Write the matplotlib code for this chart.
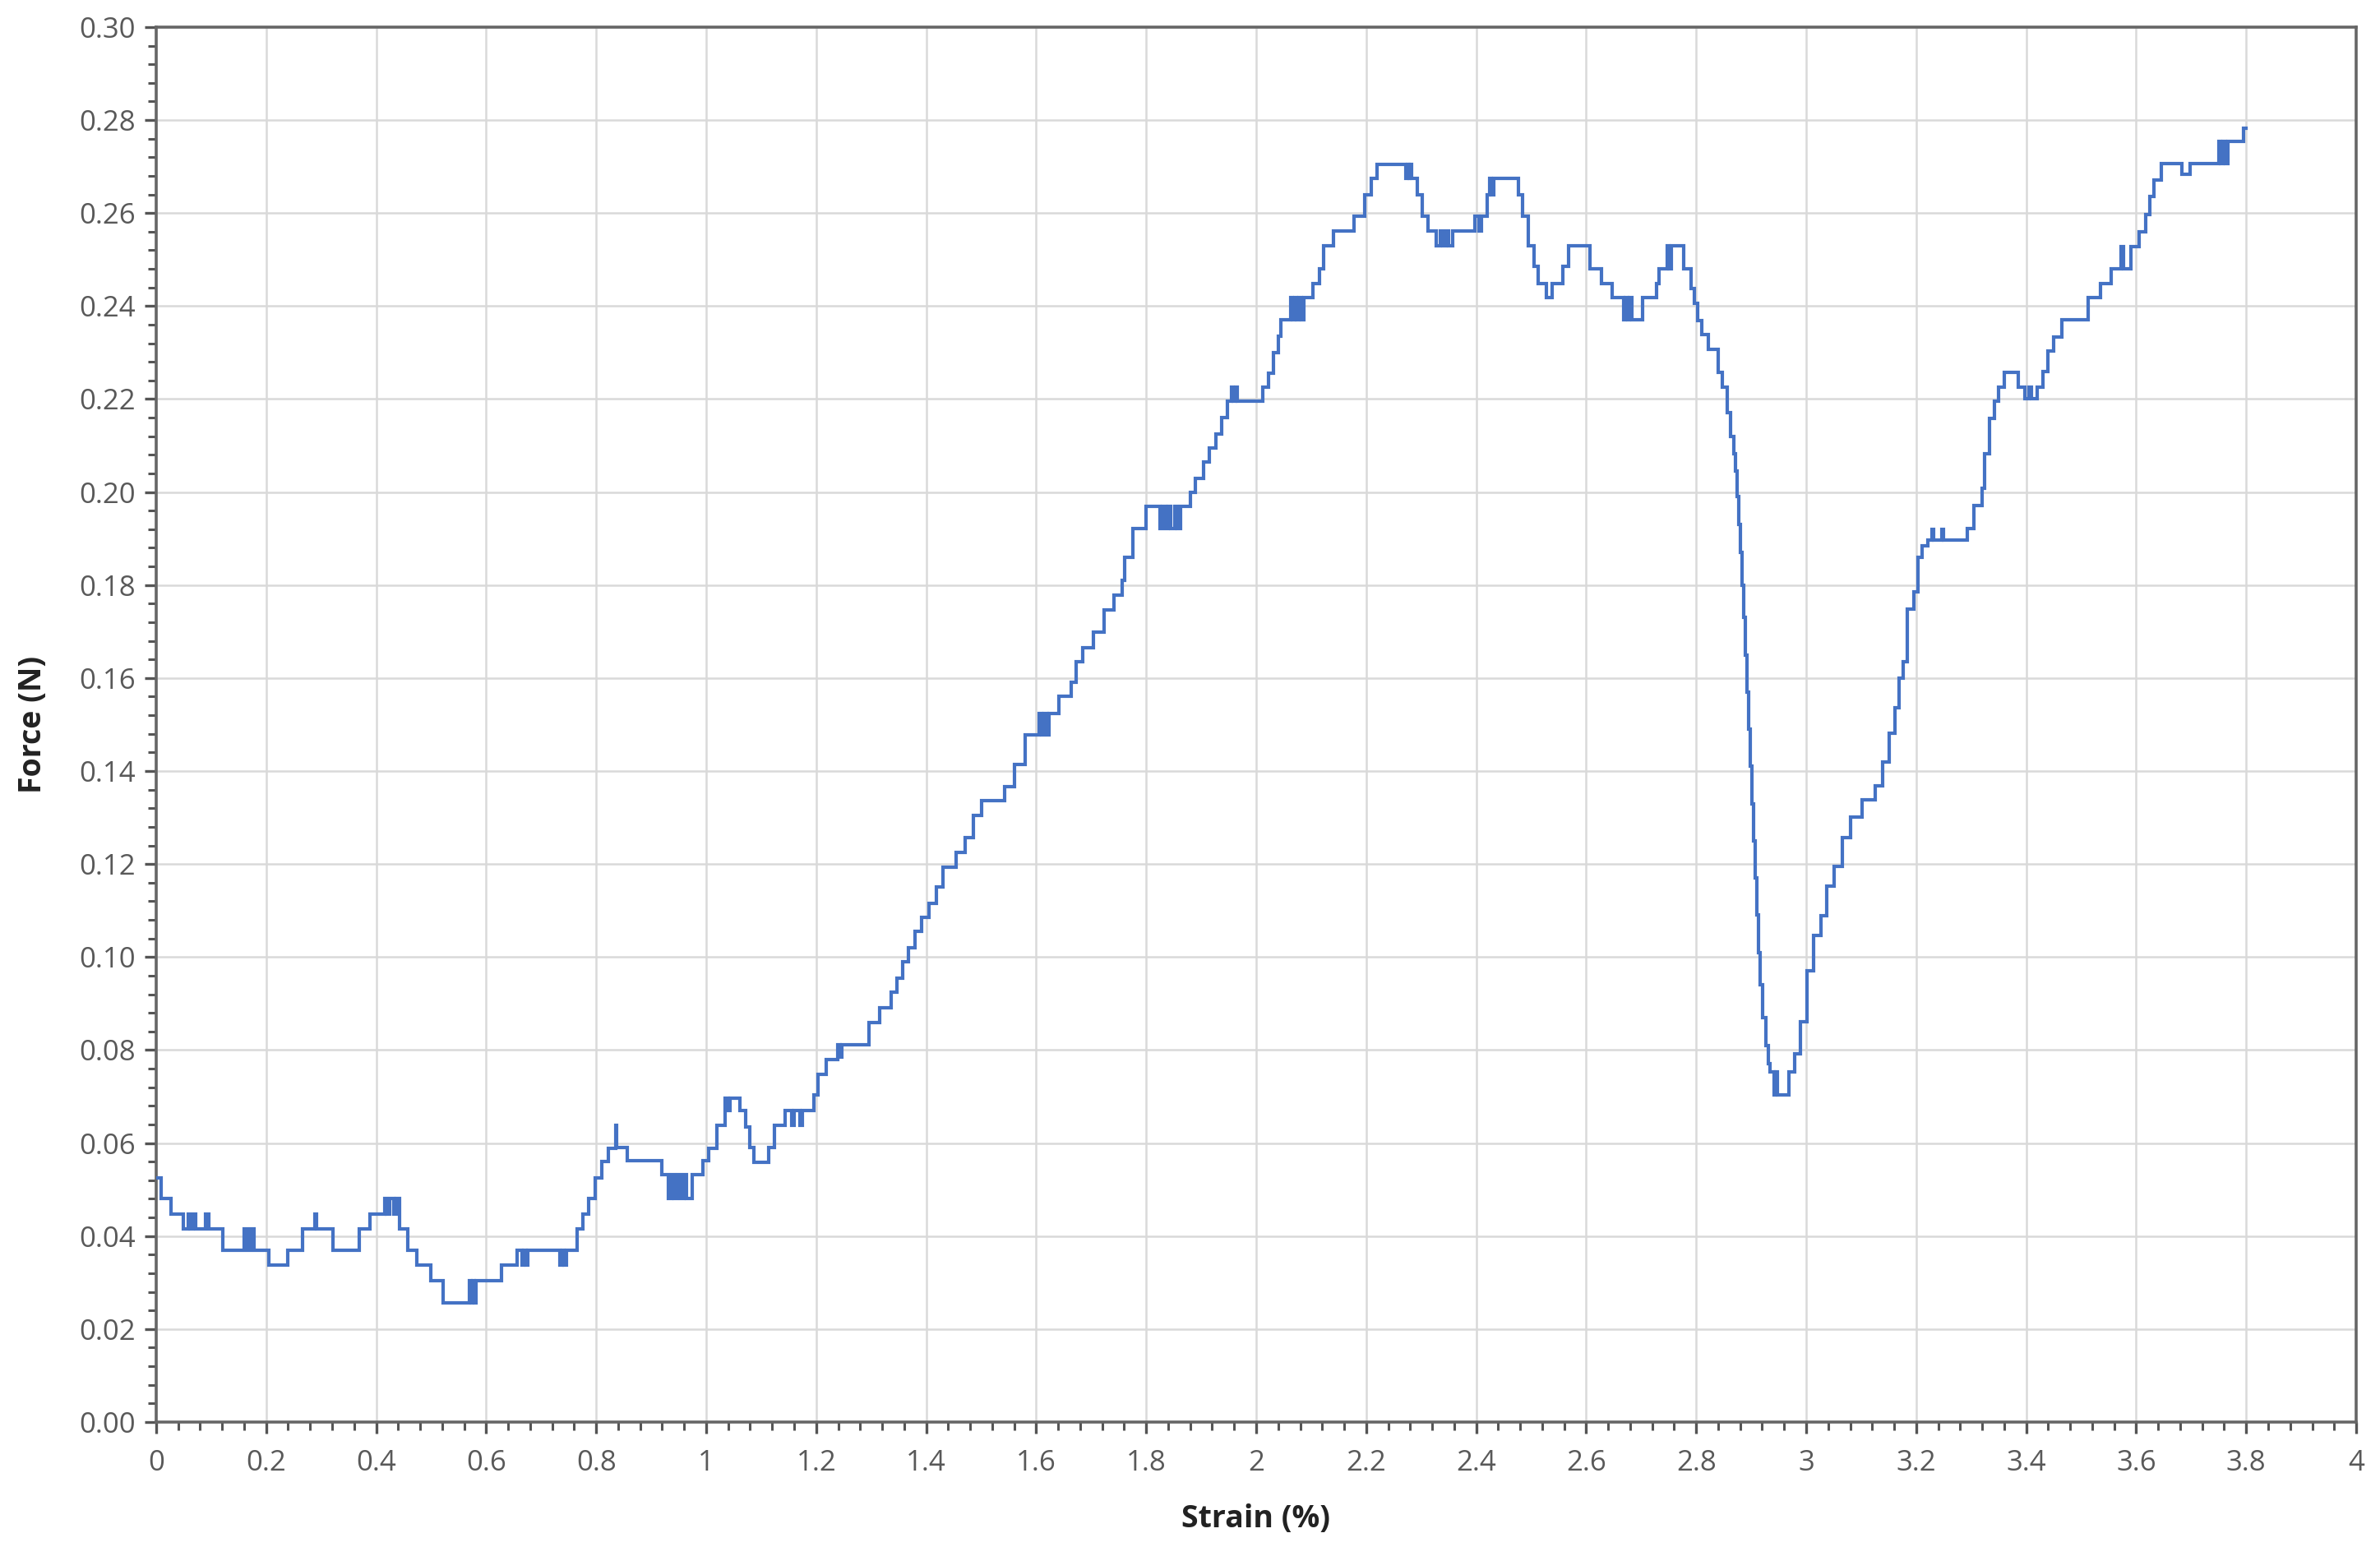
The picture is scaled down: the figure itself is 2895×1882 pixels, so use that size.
import matplotlib
matplotlib.use("Agg")
import matplotlib.pyplot as plt
from matplotlib.ticker import MultipleLocator, FuncFormatter

# Step breakpoints: strain (%) and the force (N) held from
# that strain until the next breakpoint. Written 5 per line, aligned line by line.
strain = [
    0.000, 0.009, 0.0276, 0.049, 0.058,
    0.062, 0.068, 0.072, 0.090, 0.096,
    0.1206, 0.160, 0.166, 0.172, 0.178,
    0.2055, 0.240, 0.2666, 0.288, 0.291,
    0.322, 0.370, 0.389, 0.415, 0.419,
    0.425, 0.432, 0.436, 0.442, 0.458,
    0.474, 0.500, 0.5215, 0.569, 0.572,
    0.575, 0.578, 0.581, 0.628, 0.657,
    0.665, 0.668, 0.672, 0.675, 0.734,
    0.738, 0.742, 0.746, 0.766, 0.776,
    0.787, 0.798, 0.811, 0.8224, 0.835,
    0.8374, 0.857, 0.920, 0.932, 0.937,
    0.942, 0.948, 0.953, 0.959, 0.964,
    0.9746, 0.9945, 1.0045, 1.0195, 1.0344,
    1.040, 1.043, 1.062, 1.072, 1.079,
    1.0868, 1.114, 1.124, 1.144, 1.155,
    1.160, 1.170, 1.175, 1.1965, 1.204,
    1.219, 1.239, 1.244, 1.247, 1.296,
    1.316, 1.336, 1.347, 1.357, 1.368,
    1.380, 1.392, 1.405, 1.418, 1.430,
    1.454, 1.471, 1.486, 1.501, 1.543,
    1.560, 1.580, 1.605, 1.610, 1.614,
    1.620, 1.624, 1.642, 1.664, 1.672,
    1.684, 1.704, 1.724, 1.741, 1.756,
    1.761, 1.776, 1.800, 1.825, 1.830,
    1.835, 1.840, 1.845, 1.852, 1.857,
    1.862, 1.880, 1.890, 1.905, 1.915,
    1.927, 1.937, 1.948, 1.955, 1.958,
    1.962, 1.966, 2.012, 2.022, 2.032,
    2.040, 2.045, 2.0625, 2.066, 2.070,
    2.074, 2.078, 2.082, 2.086, 2.1025,
    2.115, 2.1225, 2.140, 2.1775, 2.1975,
    2.210, 2.220, 2.272, 2.275, 2.278,
    2.280, 2.283, 2.2925, 2.3025, 2.3125,
    2.3275, 2.335, 2.340, 2.345, 2.350,
    2.3575, 2.3975, 2.405, 2.410, 2.420,
    2.425, 2.428, 2.432, 2.4775, 2.485,
    2.495, 2.505, 2.5125, 2.5275, 2.5375,
    2.5575, 2.5675, 2.6075, 2.6275, 2.6475,
    2.6675, 2.671, 2.675, 2.679, 2.683,
    2.7025, 2.7275, 2.7325, 2.7475, 2.751,
    2.755, 2.7775, 2.790, 2.797, 2.8025,
    2.810, 2.8224, 2.840, 2.847, 2.857,
    2.862, 2.868, 2.872, 2.875, 2.878,
    2.881, 2.884, 2.887, 2.890, 2.893,
    2.896, 2.899, 2.902, 2.905, 2.908,
    2.911, 2.914, 2.917, 2.921, 2.926,
    2.931, 2.9345, 2.942, 2.945, 2.947,
    2.969, 2.979, 2.989, 3.0017, 3.014,
    3.0266, 3.0366, 3.0515, 3.0664, 3.081,
    3.101, 3.126, 3.1386, 3.151, 3.161,
    3.1685, 3.176, 3.1835, 3.196, 3.2034,
    3.211, 3.221, 3.228, 3.231, 3.246,
    3.249, 3.293, 3.3055, 3.3204, 3.325,
    3.333, 3.343, 3.3503, 3.360, 3.385,
    3.3976, 3.405, 3.410, 3.420, 3.430,
    3.440, 3.450, 3.465, 3.5125, 3.535,
    3.555, 3.5725, 3.5775, 3.590, 3.605,
    3.6175, 3.625, 3.6325, 3.645, 3.6825,
    3.6975, 3.750, 3.754, 3.758, 3.762,
    3.7675, 3.795, 3.800,
]
force = [
    0.0525, 0.0481, 0.0448, 0.0416, 0.0448,
    0.0416, 0.0448, 0.0416, 0.0448, 0.0416,
    0.0369, 0.0416, 0.0369, 0.0416, 0.0369,
    0.0338, 0.0369, 0.0416, 0.0448, 0.0416,
    0.0369, 0.0416, 0.0448, 0.0481, 0.0448,
    0.0481, 0.0448, 0.0481, 0.0416, 0.0369,
    0.0338, 0.0304, 0.0257, 0.0304, 0.0257,
    0.0304, 0.0257, 0.0304, 0.0338, 0.0369,
    0.0338, 0.0369, 0.0338, 0.0369, 0.0338,
    0.0369, 0.0338, 0.0369, 0.0416, 0.0448,
    0.0481, 0.0525, 0.0560, 0.0588, 0.0638,
    0.0591, 0.0562, 0.0532, 0.0481, 0.0532,
    0.0481, 0.0532, 0.0481, 0.0532, 0.0481,
    0.0532, 0.0562, 0.0588, 0.0638, 0.0697,
    0.0670, 0.0697, 0.0670, 0.0635, 0.0591,
    0.0559, 0.0591, 0.0638, 0.0670, 0.0638,
    0.0670, 0.0638, 0.0670, 0.0703, 0.0747,
    0.0779, 0.0812, 0.0785, 0.0812, 0.0859,
    0.0890, 0.0924, 0.0955, 0.0990, 0.1020,
    0.1055, 0.1085, 0.1115, 0.1150, 0.1194,
    0.1225, 0.1257, 0.1304, 0.1337, 0.1367,
    0.1414, 0.1477, 0.1524, 0.1477, 0.1524,
    0.1477, 0.1524, 0.1560, 0.1591, 0.1635,
    0.1666, 0.1698, 0.1746, 0.1778, 0.1810,
    0.1859, 0.1922, 0.1969, 0.1922, 0.1969,
    0.1922, 0.1969, 0.1922, 0.1969, 0.1922,
    0.1969, 0.2000, 0.2030, 0.2065, 0.2095,
    0.2125, 0.2160, 0.2195, 0.2225, 0.2195,
    0.2225, 0.2195, 0.2225, 0.2255, 0.2299,
    0.2336, 0.2371, 0.2418, 0.2371, 0.2418,
    0.2371, 0.2418, 0.2371, 0.2418, 0.2449,
    0.2480, 0.2529, 0.2561, 0.2594, 0.2639,
    0.2674, 0.2705, 0.2674, 0.2705, 0.2674,
    0.2705, 0.2674, 0.2639, 0.2594, 0.2561,
    0.2530, 0.2561, 0.2530, 0.2561, 0.2530,
    0.2561, 0.2594, 0.2561, 0.2594, 0.2639,
    0.2674, 0.2639, 0.2674, 0.2639, 0.2594,
    0.2529, 0.2486, 0.2449, 0.2418, 0.2449,
    0.2486, 0.2529, 0.2480, 0.2449, 0.2418,
    0.2371, 0.2418, 0.2371, 0.2418, 0.2371,
    0.2418, 0.2449, 0.2480, 0.2529, 0.2480,
    0.2529, 0.2480, 0.2437, 0.2406, 0.2369,
    0.2338, 0.2307, 0.2257, 0.2226, 0.2170,
    0.2120, 0.2083, 0.2045, 0.1990, 0.1930,
    0.1870, 0.1800, 0.1730, 0.1650, 0.1570,
    0.1490, 0.1410, 0.1330, 0.1250, 0.1170,
    0.1090, 0.1010, 0.0940, 0.0870, 0.0810,
    0.0770, 0.0753, 0.0704, 0.0753, 0.0704,
    0.0753, 0.0791, 0.0860, 0.0971, 0.1046,
    0.1089, 0.1152, 0.1195, 0.1257, 0.1301,
    0.1338, 0.1369, 0.1419, 0.1481, 0.1537,
    0.1599, 0.1636, 0.1748, 0.1785, 0.1860,
    0.1884, 0.1897, 0.1920, 0.1897, 0.1920,
    0.1897, 0.1922, 0.1971, 0.2009, 0.2083,
    0.2158, 0.2195, 0.2226, 0.2257, 0.2226,
    0.2200, 0.2226, 0.2200, 0.2226, 0.2259,
    0.2303, 0.2334, 0.2370, 0.2418, 0.2449,
    0.2481, 0.2528, 0.2481, 0.2528, 0.2560,
    0.2596, 0.2635, 0.2671, 0.2707, 0.2683,
    0.2707, 0.2754, 0.2707, 0.2754, 0.2707,
    0.2754, 0.2782, 0.2782,
]
assert len(strain) == len(force)

x_label = "Strain (%)"
y_label = "Force (N)"
x_ticks = [0, 0.2, 0.4, 0.6, 0.8, 1, 1.2, 1.4, 1.6, 1.8, 2, 2.2, 2.4, 2.6, 2.8, 3,
           3.2, 3.4, 3.6, 3.8, 4]
x_ticklabels = ["0", "0.2", "0.4", "0.6", "0.8", "1", "1.2", "1.4", "1.6", "1.8", "2",
                "2.2", "2.4", "2.6", "2.8", "3", "3.2", "3.4", "3.6", "3.8", "4"]
y_ticks = [0.00, 0.02, 0.04, 0.06, 0.08, 0.10, 0.12, 0.14, 0.16, 0.18, 0.20, 0.22,
           0.24, 0.26, 0.28, 0.30]

plt.rcParams['font.family'] = ['Open Sans', 'DejaVu Sans']

fig = plt.figure(figsize=(28.95, 18.82), dpi=100)
ax = fig.add_axes([0.0656, 0.0808, 0.9244, 0.9017])

ax.plot(strain, force, drawstyle='steps-post', color='#4472C4', lw=3.0,
        solid_joinstyle='miter', zorder=3)

ax.set_xlim(0, 4)
ax.set_ylim(0, 0.30)
ax.set_xticks(x_ticks)
ax.set_xticklabels(x_ticklabels)
ax.set_yticks(y_ticks)
ax.yaxis.set_major_formatter(FuncFormatter(lambda v, p: f"{v:.2f}"))
ax.xaxis.set_minor_locator(MultipleLocator(0.04))
ax.yaxis.set_minor_locator(MultipleLocator(0.004))

ax.grid(True, which='major', color='#D9D9D9', lw=1.8, zorder=0)
ax.set_axisbelow(True)

for s in ax.spines.values():
    s.set_color('#666666')
    s.set_linewidth(2.6)

ax.tick_params(axis='both', which='major', direction='out', length=10, width=2.4,
               color='#555555', labelsize=25, labelcolor='#595959')
ax.tick_params(axis='both', which='minor', direction='out', length=7, width=2.2,
               color='#555555')
ax.tick_params(axis='y', which='major', pad=8)
ax.tick_params(axis='x', which='major', pad=14)

ax.set_xlabel(x_label, fontsize=27, fontweight='bold', color='#222222', labelpad=23)
ax.set_ylabel(y_label, fontsize=27, fontweight='bold', color='#222222', labelpad=27)

fig.savefig("out.png", dpi=100, facecolor='white')
